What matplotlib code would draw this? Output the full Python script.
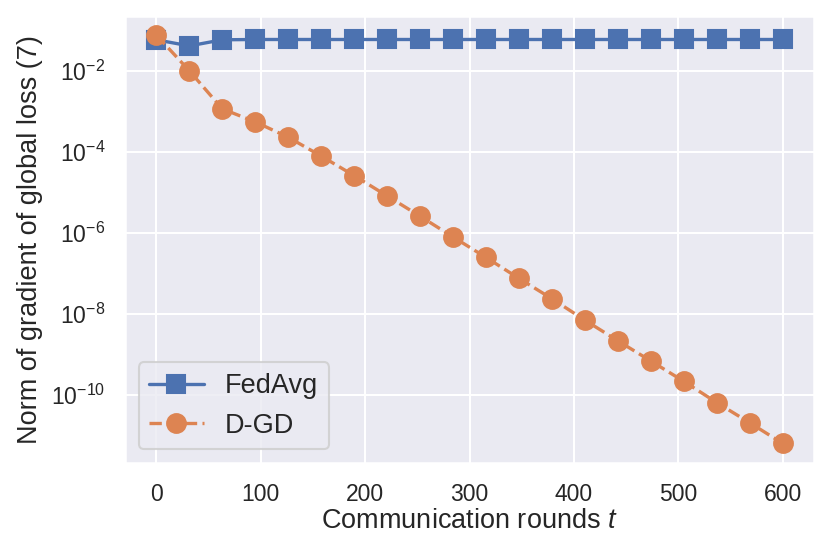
import numpy as np
import matplotlib
matplotlib.use('Agg')
import matplotlib.pyplot as plt
import seaborn as sns

rounds = [0, 31.6, 63.2, 94.7, 126.3, 157.9, 189.5, 221.1, 252.6, 284.2,
          315.8, 347.4, 378.9, 410.5, 442.1, 473.7, 505.3, 536.8, 568.4, 600]

fedavg = [0.058, 0.041, 0.058, 0.059, 0.059, 0.059, 0.059, 0.059, 0.059, 0.059,
          0.059, 0.059, 0.059, 0.059, 0.059, 0.059, 0.059, 0.059, 0.059, 0.059]

dgd = [7.6e-2, 1.0e-2, 1.15e-3, 5.5e-4, 2.3e-4, 7.9e-5, 2.6e-5, 8.2e-6,
       2.6e-6, 8.0e-7, 2.5e-7, 7.6e-8, 2.4e-8, 7.1e-9, 2.2e-9, 7.0e-10,
       2.2e-10, 6.6e-11, 2.1e-11, 6.5e-12]

sns.set_theme(style='darkgrid')
plt.rcParams['font.family'] = ['Liberation Sans', 'DejaVu Sans']
plt.rcParams['mathtext.fontset'] = 'custom'
plt.rcParams['mathtext.rm'] = 'Liberation Sans'
plt.rcParams['mathtext.it'] = 'Liberation Sans:italic'

fig, ax = plt.subplots(figsize=(830 / 150, 552 / 150), dpi=150)

ax.plot(rounds, fedavg, '-s', color='C0', markersize=9, linewidth=1.6, label='FedAvg')
ax.plot(rounds, dgd, '--o', color='C1', markersize=9, linewidth=1.6, label='D-GD')

ax.set_yscale('log')
ax.set_ylim(10 ** -11.67, 10 ** -0.65)
ax.set_xlabel('Communication rounds $t$', fontsize=13, labelpad=1)
ax.set_ylabel('Norm of gradient of global loss (7)', fontsize=13, labelpad=4)
ax.tick_params(axis='both', labelsize=11)
ax.minorticks_off()
ax.legend(loc='lower left', fontsize=13)

fig.subplots_adjust(left=125 / 830, right=814 / 830, top=1 - 16 / 552, bottom=1 - 463 / 552)
fig.savefig('out.png', dpi=150)
